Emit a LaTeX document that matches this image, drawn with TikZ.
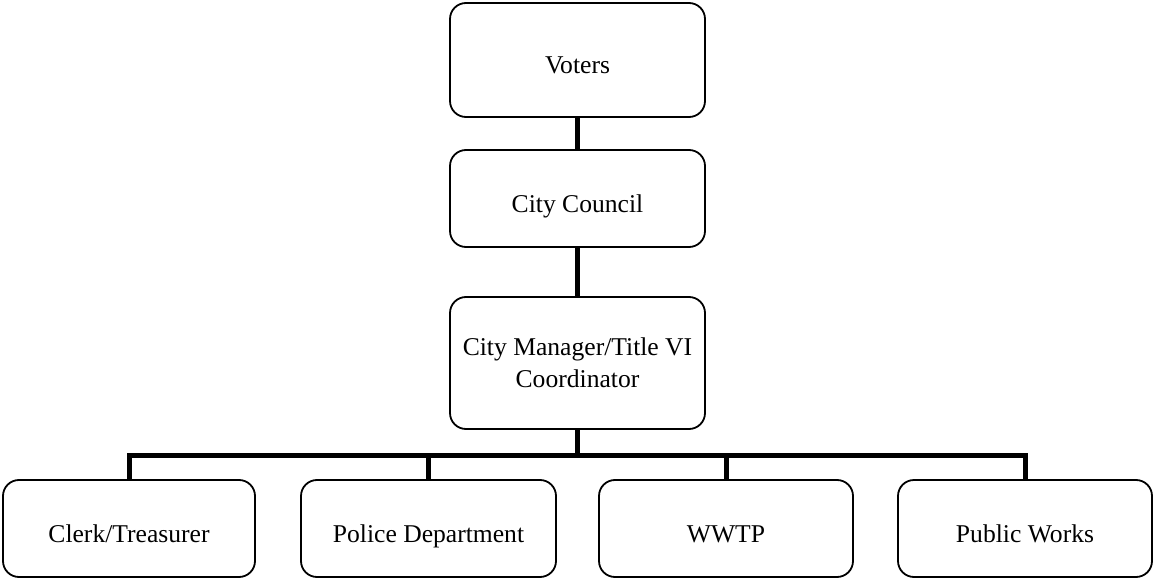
\documentclass[tikz,border=0pt]{standalone}
\usepackage{fontspec}
\setmainfont{Liberation Serif}
\usepackage{tikz}
\usetikzlibrary{positioning,calc}

\begin{document}
\begin{tikzpicture}[
    x=1pt, y=-1pt,
    box/.style={rectangle, draw, line width=1.8pt, rounded corners=16pt, minimum width=255pt, align=center, inner sep=0pt, font=\fontsize{25.6}{32}\selectfont},
    oneline/.style={text height=28pt, text depth=0pt},
    link/.style={line width=5pt}
]
    \useasboundingbox (0,0) rectangle (1154,580);

    % Top of the chain
    \node[box, oneline, minimum height=114pt] (voters) at (577.5, 60) {Voters};
    \node[box, oneline, minimum height=97pt] (council) at (577.5, 198.5) {City Council};
    \node[box, minimum height=132pt] (manager) at (577.5, 363) {City Manager/Title VI\\Coordinator};

    % Departments
    \node[box, oneline, minimum width=252pt, minimum height=97pt] (clerk) at (129, 528.5) {Clerk/Treasurer};
    \node[box, oneline, minimum height=97pt] (police) at (428.5, 528.5) {Police Department};
    \node[box, oneline, minimum width=254pt, minimum height=97pt] (wwtp) at (726, 528.5) {WWTP};
    \node[box, oneline, minimum width=254pt, minimum height=97pt] (works) at (1025, 528.5) {Public Works};

    \coordinate (bus) at (577.5, 455);

    \draw[link] (voters) -- (council);
    \draw[link] (council) -- (manager);
    \draw[link] (manager) -- (bus);
    \draw[link] (clerk.north) -- (clerk.north |- bus) -- (works.north |- bus) -- (works.north);
    \draw[link] (police.north) -- (police.north |- bus);
    \draw[link] (wwtp.north) -- (wwtp.north |- bus);
\end{tikzpicture}
\end{document}
